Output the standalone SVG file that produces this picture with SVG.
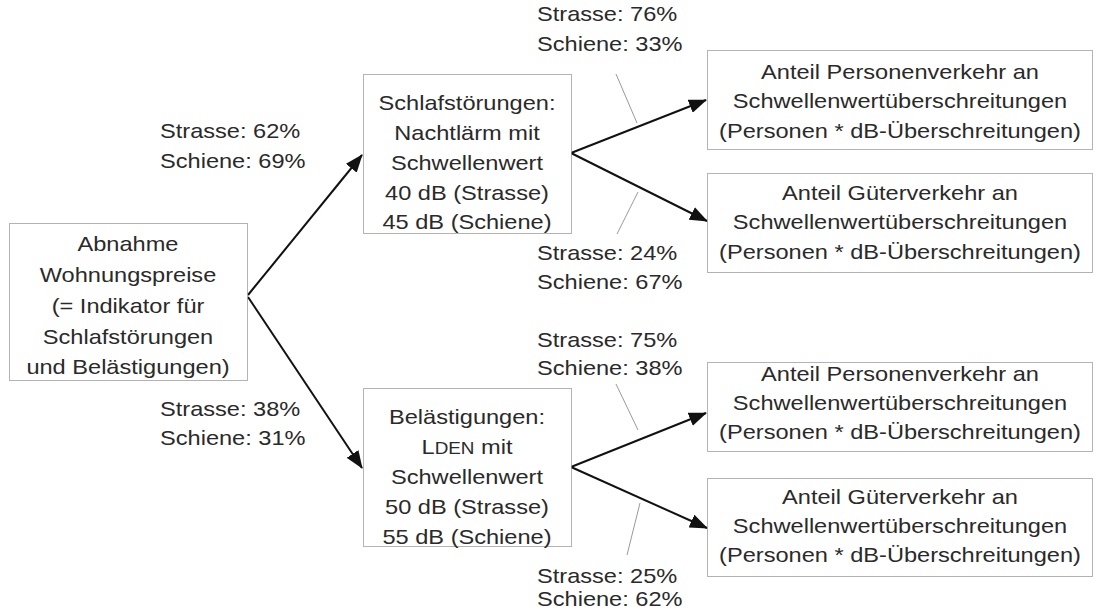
<svg xmlns="http://www.w3.org/2000/svg" width="1096" height="611" viewBox="0 0 1096 611">
<style>
.box{fill:#fff;stroke:#666;stroke-width:1;stroke-dasharray:1 1}
.t{font-family:"Liberation Sans",Arial,sans-serif;font-size:20px;fill:#2a2a2a;text-anchor:middle}
.l{font-family:"Liberation Sans",Arial,sans-serif;font-size:20px;fill:#2a2a2a}
.arr{stroke:#111;stroke-width:2;fill:none;marker-end:url(#ah)}
.lead{stroke:#999;stroke-width:1;fill:none}
</style>
<defs>
<marker id="ah" markerWidth="9" markerHeight="7" refX="8.5" refY="3.5" orient="auto" markerUnits="strokeWidth">
<path d="M0,0 L9,3.5 L0,7 Z" fill="#111"/>
</marker>
</defs>
<rect width="1096" height="611" fill="#fff"/>
<g id="connectors">
<line class="arr" x1="248" y1="295" x2="362" y2="155"/>
<line class="arr" x1="248" y1="297" x2="362" y2="468"/>
<line class="arr" x1="571" y1="153" x2="706" y2="100"/>
<line class="arr" x1="571" y1="153" x2="707" y2="221"/>
<line class="arr" x1="571" y1="467" x2="706" y2="413"/>
<line class="arr" x1="571" y1="467" x2="707" y2="528"/>
<line class="lead" x1="616" y1="74" x2="637" y2="123"/>
<line class="lead" x1="638" y1="192" x2="617" y2="234"/>
<line class="lead" x1="616" y1="384" x2="638" y2="430"/>
<line class="lead" x1="640" y1="503" x2="627" y2="555"/>
</g>
<g id="n-wohnungspreise">
<rect class="box" x="9.5" y="223.5" width="238" height="157"/>
<g transform="translate(128 0) scale(1.18 1)">
<text class="t" x="0" y="251">Abnahme</text>
<text class="t" x="0" y="282">Wohnungspreise</text>
<text class="t" x="0" y="313">(= Indikator für</text>
<text class="t" x="0" y="344">Schlafstörungen</text>
<text class="t" x="0" y="374">und Belästigungen)</text>
</g>
</g>
<g id="n-schlaf">
<rect class="box" x="363.5" y="74.5" width="208" height="159"/>
<g transform="translate(467 0) scale(1.18 1)">
<text class="t" x="0" y="110">Schlafstörungen:</text>
<text class="t" x="0" y="140">Nachtlärm mit</text>
<text class="t" x="0" y="170">Schwellenwert</text>
<text class="t" x="0" y="200">40 dB (Strasse)</text>
<text class="t" x="0" y="229">45 dB (Schiene)</text>
</g>
</g>
<g id="n-belaestigung">
<rect class="box" x="363.5" y="388.5" width="208" height="158"/>
<g transform="translate(467 0) scale(1.18 1)">
<text class="t" x="0" y="424">Belästigungen:</text>
<text class="t" x="0" y="454">L<tspan font-size="16">DEN</tspan> mit</text>
<text class="t" x="0" y="484">Schwellenwert</text>
<text class="t" x="0" y="514">50 dB (Strasse)</text>
<text class="t" x="0" y="544">55 dB (Schiene)</text>
</g>
</g>
<g id="n-pv1">
<rect class="box" x="707.5" y="50.5" width="385" height="99"/>
<g transform="translate(900 0) scale(1.18 1)">
<text class="t" x="0" y="79">Anteil Personenverkehr an</text>
<text class="t" x="0" y="108">Schwellenwertüberschreitungen</text>
<text class="t" x="0" y="138">(Personen * dB-Überschreitungen)</text>
</g>
</g>
<g id="n-gv1">
<rect class="box" x="707.5" y="173.5" width="385" height="99"/>
<g transform="translate(900 0) scale(1.18 1)">
<text class="t" x="0" y="200">Anteil Güterverkehr an</text>
<text class="t" x="0" y="229">Schwellenwertüberschreitungen</text>
<text class="t" x="0" y="259">(Personen * dB-Überschreitungen)</text>
</g>
</g>
<g id="n-pv2">
<rect class="box" x="707.5" y="362.5" width="385" height="89"/>
<g transform="translate(900 0) scale(1.18 1)">
<text class="t" x="0" y="381">Anteil Personenverkehr an</text>
<text class="t" x="0" y="410">Schwellenwertüberschreitungen</text>
<text class="t" x="0" y="439">(Personen * dB-Überschreitungen)</text>
</g>
</g>
<g id="n-gv2">
<rect class="box" x="707.5" y="478.5" width="385" height="98"/>
<g transform="translate(900 0) scale(1.18 1)">
<text class="t" x="0" y="504">Anteil Güterverkehr an</text>
<text class="t" x="0" y="533">Schwellenwertüberschreitungen</text>
<text class="t" x="0" y="562">(Personen * dB-Überschreitungen)</text>
</g>
</g>
<g id="labels">
<g transform="translate(537 0) scale(1.18 1)">
<text class="l" x="0" y="21">Strasse: 76%</text>
<text class="l" x="0" y="51">Schiene: 33%</text>
<text class="l" x="0" y="260">Strasse: 24%</text>
<text class="l" x="0" y="289">Schiene: 67%</text>
<text class="l" x="0" y="347">Strasse: 75%</text>
<text class="l" x="0" y="375">Schiene: 38%</text>
<text class="l" x="0" y="583">Strasse: 25%</text>
<text class="l" x="0" y="606">Schiene: 62%</text>
</g>
<g transform="translate(160 0) scale(1.18 1)">
<text class="l" x="0" y="138">Strasse: 62%</text>
<text class="l" x="0" y="168">Schiene: 69%</text>
<text class="l" x="0" y="416">Strasse: 38%</text>
<text class="l" x="0" y="445">Schiene: 31%</text>
</g>
</g>
</svg>
